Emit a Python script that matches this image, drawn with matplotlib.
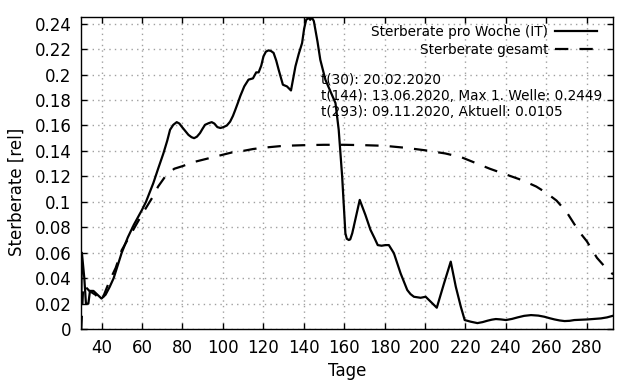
import matplotlib
matplotlib.use('Agg')
import matplotlib.pyplot as plt
import numpy as np

# Sterberate pro Woche (IT)
woche_t = [30, 30.3, 31.5, 32.3, 33.5, 34.3, 36, 38, 40, 42, 44, 46, 48, 50, 53, 56, 60,
           62, 65.6, 68, 70.6, 72.5, 73.9, 75.5, 77.2, 78.5, 79.7, 81.5, 83, 84.5, 85.8,
           87.2, 88.7, 90, 91.2, 93, 94.5, 95.8, 97.3, 98.8, 100.3, 102, 103.6, 105,
           106.1, 107.5, 108.6, 110.6, 112.7, 114.9, 116.5, 117.7, 119, 120.1, 121.3,
           122.6, 123.8, 125.1, 126.4, 127.6, 129.7, 131.7, 133.7, 135.9, 137.5, 139.2,
           140.2, 141.2, 142.5, 143.2, 144, 145, 145.8, 146.8, 148.2, 150.7, 153.2,
           155.7, 157.3, 159, 160.6, 161.3, 162.3, 163, 164, 165.8, 167.7, 169, 170.5,
           173, 175, 176.6, 178.5, 180.4, 182.1, 184.6, 187.9, 191.2, 192.8, 194.5,
           197.8, 200.3, 202.8, 205.8, 209.4, 212.7, 215.2, 217.7, 219.6, 222.6, 225.9,
           228.5, 230.9, 233, 235, 237.5, 240, 243, 245.8, 249, 252.4, 256, 259, 261.5,
           264, 266.5, 269, 271.5, 273.8, 277, 280.5, 284, 287, 290, 293]
woche_v = [0.021, 0.06, 0.04, 0.02, 0.02, 0.03, 0.03, 0.027, 0.024, 0.027, 0.033, 0.04,
           0.05, 0.06, 0.072, 0.082, 0.0936, 0.1, 0.1146, 0.126, 0.138, 0.148, 0.1566,
           0.1605, 0.1626, 0.1615, 0.159, 0.1555, 0.1526, 0.1508, 0.150, 0.1512, 0.154,
           0.1575, 0.1605, 0.1618, 0.1626, 0.1615, 0.1587, 0.158, 0.1587, 0.160, 0.163,
           0.1675, 0.172, 0.178, 0.183, 0.1907, 0.196, 0.197, 0.2017, 0.2017, 0.207,
           0.2143, 0.218, 0.219, 0.2185, 0.217, 0.211, 0.2038, 0.192, 0.1907, 0.1875,
           0.2064, 0.216, 0.2248, 0.236, 0.243, 0.2445, 0.243, 0.2449, 0.242, 0.235,
           0.226, 0.2116, 0.196, 0.1867, 0.1776, 0.1566, 0.12, 0.0753, 0.071, 0.070,
           0.0705, 0.0753, 0.088, 0.1015, 0.096, 0.0897, 0.078, 0.0715, 0.066, 0.0655,
           0.066, 0.066, 0.0596, 0.0438, 0.0307, 0.0275, 0.0254, 0.0246, 0.0254, 0.0215,
           0.0168, 0.036, 0.053, 0.0333, 0.0175, 0.0071, 0.0058, 0.0047, 0.0055, 0.0066,
           0.0074, 0.0079, 0.0076, 0.0071, 0.008, 0.0092, 0.0104, 0.011, 0.0106, 0.0097,
           0.0086, 0.0076, 0.0068, 0.0063, 0.0065, 0.0071, 0.0073, 0.0076, 0.008, 0.0084,
           0.0092, 0.0105]

# Sterberate gesamt
gesamt_t = [30, 31, 34, 37, 40, 42, 44, 47, 50, 55, 60, 65, 68, 72, 76, 80, 85, 90, 95,
            100, 105, 110, 115, 120, 130, 140, 150, 160, 170, 180, 190, 200, 210, 218,
            225, 232, 240, 248, 255, 260, 265, 270, 276, 280, 285, 290, 293]
gesamt_v = [0, 0.035, 0.03, 0.027, 0.022, 0.03, 0.038, 0.048, 0.062, 0.076, 0.09, 0.103,
            0.112, 0.121, 0.126, 0.128, 0.131, 0.133, 0.135, 0.137, 0.139, 0.140, 0.1415,
            0.1425, 0.144, 0.1445, 0.1448, 0.1448, 0.1445, 0.144, 0.1425, 0.1405, 0.138,
            0.135, 0.1305, 0.126, 0.1215, 0.117, 0.112, 0.107, 0.101, 0.092, 0.077, 0.069,
            0.056, 0.047, 0.043]

info = ['t(30): 20.02.2020',
        't(144): 13.06.2020, Max 1. Welle: 0.2449',
        't(293): 09.11.2020, Aktuell: 0.0105']

fig = plt.figure(figsize=(6.4, 3.84), dpi=100)
ax = fig.add_axes([0.127, 0.143, 0.831, 0.813])

ax.plot(woche_t, woche_v, 'k-', lw=1.6, label='Sterberate pro Woche (IT)')
ax.plot(gesamt_t, gesamt_v, 'k--', lw=1.6, dashes=(6, 5), label='Sterberate gesamt')

ax.set_xlim(30, 293)
ax.set_ylim(0, 0.2453)
ax.set_xticks(np.arange(40, 281, 20))
ax.set_yticks(np.arange(0, 0.241, 0.02))
ax.set_yticklabels(['%g' % round(v, 2) for v in np.arange(0, 0.241, 0.02)])
ax.tick_params(direction='in', length=4.5, width=1, top=True, right=True,
               labelsize=12, pad=7)
ax.grid(True, color='#a0a0a0', linestyle=(0, (1, 3)), lw=1)
for s in ax.spines.values():
    s.set_linewidth(1)

ax.set_xlabel('Tage', fontsize=12, labelpad=4)
ax.set_ylabel('Sterberate [rel]', fontsize=12, labelpad=6)
ax.yaxis.set_label_coords(-0.105, 0.44)

ax.legend(loc='upper right', bbox_to_anchor=(0.970, 0.975), frameon=False,
          markerfirst=False, fontsize=9.8, handlelength=3.1, handletextpad=0.5,
          labelspacing=0.3, borderpad=0, borderaxespad=0)

for i, line in enumerate(info):
    ax.text(0.45, 0.80 - i * 0.053, line, transform=ax.transAxes, fontsize=9.8,
            va='center', ha='left')

plt.savefig('out.png', dpi=100)
